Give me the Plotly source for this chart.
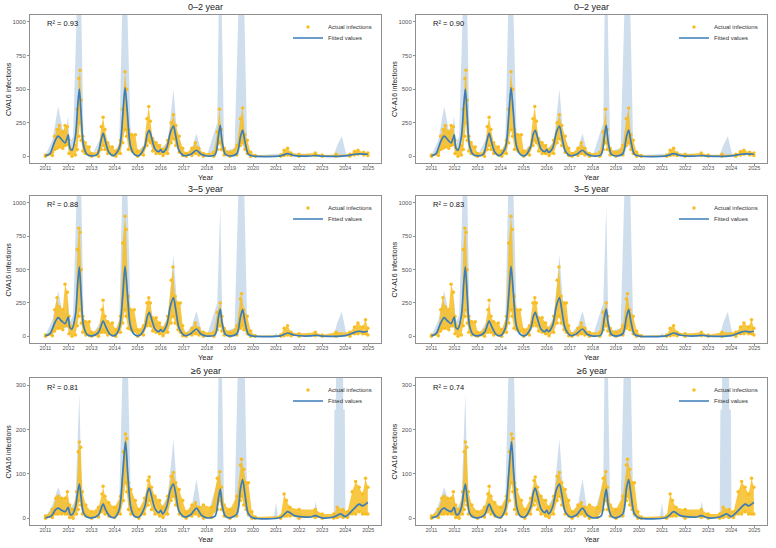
import plotly.graph_objects as go

# ---------------- data ----------------
year_ticks = list(range(2011, 2026))
panel_titles = ["0–2 year", "0–2 year", "3–5 year", "3–5 year", "≥6 year", "≥6 year"]
r2_labels = ["R² = 0.93", "R² = 0.90", "R² = 0.88", "R² = 0.83", "R² = 0.81", "R² = 0.74"]
y_titles = ["CVA16 infections", "CV-A16 infections"] * 3
y_ticks_young = [0, 250, 500, 750, 1000]
y_ticks_old = [0, 100, 200, 300]

# ---- 0–2 year ----
fit_t_02 = [2011.0, 2011.2, 2011.4, 2011.55, 2011.7, 2011.85, 2011.95, 2011.99, 2012.06, 2012.15, 2012.3, 2012.4,
            2012.47, 2012.55, 2012.65, 2012.8, 2013.0, 2013.25, 2013.4, 2013.5, 2013.6, 2013.75, 2013.95, 2014.2,
            2014.35, 2014.45, 2014.55, 2014.68, 2014.85, 2015.05, 2015.3, 2015.42, 2015.5, 2015.6, 2015.75, 2015.92,
            2016.0, 2016.08, 2016.25, 2016.42, 2016.55, 2016.65, 2016.8, 2017.0, 2017.3, 2017.55, 2017.75, 2018.0,
            2018.35, 2018.5, 2018.58, 2018.66, 2018.8, 2019.0, 2019.3, 2019.45, 2019.55, 2019.65, 2019.8, 2020.0,
            2021.2, 2021.5, 2021.8, 2022.5, 2022.7, 2023.0, 2024.0, 2024.4, 2024.6, 2024.98]
fit_v_02 = [3, 20, 110, 150, 125, 100, 140, 160, 60, 45, 150, 380,
            500, 300, 80, 15, 3, 15, 110, 170, 110, 30, 5, 60,
            300, 510, 330, 80, 15, 5, 70, 170, 193, 140, 55, 35,
            50, 30, 60, 180, 225, 150, 40, 5, 15, 45, 15, 2,
            10, 150, 230, 110, 15, 2, 20, 140, 195, 110, 15, 2,
            3, 20, 5, 2, 6, 1, 3, 15, 18, 15]
band_t_02 = [2011.0, 2011.3, 2011.55, 2011.75, 2011.9, 2011.98, 2012.05, 2012.2, 2012.36, 2012.47, 2012.55, 2012.65,
             2012.8, 2013.0, 2013.4, 2013.5, 2013.6, 2013.9, 2014.2, 2014.33, 2014.45, 2014.55, 2014.7, 2014.9,
             2015.3, 2015.5, 2015.65, 2016.0, 2016.3, 2016.55, 2016.7, 2017.0, 2017.35, 2017.55, 2017.75, 2018.0,
             2018.45, 2018.52, 2018.58, 2018.63, 2018.75, 2019.2, 2019.37, 2019.5, 2019.62, 2019.75, 2020.0, 2021.5,
             2023.5, 2023.65, 2023.85, 2024.02, 2024.1, 2024.6, 2024.98]
band_lo_02 = [0, 30, 90, 70, 70, 100, 30, 30, 150, 300, 150, 30,
              5, 0, 80, 140, 90, 0, 30, 150, 350, 180, 50, 5,
              50, 160, 90, 40, 40, 180, 70, 0, 10, 30, 5, 0,
              60, 150, 200, 120, 10, 0, 10, 100, 60, 5, 0, 15,
              0, 0, 0, 0, 2, 12, 12]
band_hi_02 = [8, 120, 370, 200, 200, 300, 90, 150, 1100, 1500, 1100, 150,
              25, 5, 140, 200, 140, 10, 90, 1100, 1500, 1100, 120, 20,
              90, 230, 140, 60, 100, 500, 180, 10, 60, 170, 40, 5,
              250, 1200, 1500, 1200, 40, 60, 1100, 1500, 1100, 60, 5, 25,
              5, 80, 150, 30, 8, 22, 20]
act_t_02 = [2011.0, 2011.3, 2011.4, 2011.5, 2011.6, 2011.75, 2011.85, 2011.95, 2012.02, 2012.15, 2012.3, 2012.38,
            2012.45, 2012.5, 2012.55, 2012.62, 2012.72, 2012.9, 2013.0, 2013.3, 2013.42, 2013.5, 2013.58, 2013.7,
            2013.9, 2014.05, 2014.25, 2014.35, 2014.45, 2014.52, 2014.6, 2014.75, 2014.9, 2015.0, 2015.25, 2015.4,
            2015.48, 2015.55, 2015.65, 2015.8, 2015.95, 2016.1, 2016.3, 2016.45, 2016.55, 2016.65, 2016.8, 2016.95,
            2017.1, 2017.35, 2017.5, 2017.65, 2017.85, 2018.3, 2018.45, 2018.55, 2018.62, 2018.75, 2019.0, 2019.3,
            2019.45, 2019.55, 2019.65, 2019.75, 2019.9, 2020.1, 2021.2, 2021.35, 2021.5, 2021.65, 2022.0, 2022.7,
            2023.0, 2023.6, 2024.2, 2024.4, 2024.55, 2024.8, 2024.98]
act_lo_02 = [0, 5, 50, 60, 70, 60, 80, 90, 20, 0, 10, 50,
             150, 250, 120, 40, 20, 10, 0, 0, 50, 80, 50, 20,
             10, 0, 20, 100, 200, 150, 50, 40, 20, 0, 10, 80,
             120, 100, 40, 20, 20, 5, 20, 100, 130, 80, 30, 5,
             0, 5, 20, 10, 0, 0, 50, 100, 50, 10, 0, 10,
             80, 100, 50, 20, 0, 0, 0, 5, 10, 5, 0, 5,
             0, 0, 0, 10, 15, 10, 5]
act_hi_02 = [10, 30, 150, 200, 230, 180, 230, 220, 120, 50, 80, 350,
             580, 640, 420, 150, 100, 70, 20, 40, 220, 290, 200, 100,
             70, 40, 120, 350, 630, 500, 200, 160, 160, 40, 60, 280,
             370, 260, 130, 100, 80, 50, 120, 250, 310, 230, 150, 60,
             20, 60, 100, 60, 20, 30, 180, 350, 200, 60, 30, 80,
             280, 360, 160, 120, 30, 5, 10, 45, 60, 25, 15, 25,
             10, 15, 15, 35, 45, 30, 25]

# ---- 3–5 year ----
fit_t_35 = [2011.0, 2011.2, 2011.4, 2011.55, 2011.7, 2011.85, 2011.95, 2011.99, 2012.06, 2012.15, 2012.3, 2012.4,
            2012.47, 2012.55, 2012.65, 2012.8, 2013.0, 2013.3, 2013.5, 2013.62, 2013.8, 2014.0, 2014.2, 2014.35,
            2014.45, 2014.55, 2014.68, 2014.85, 2015.05, 2015.3, 2015.42, 2015.5, 2015.6, 2015.75, 2015.92, 2016.0,
            2016.08, 2016.25, 2016.42, 2016.55, 2016.65, 2016.8, 2017.05, 2017.3, 2017.55, 2017.75, 2018.0, 2018.35,
            2018.5, 2018.58, 2018.66, 2018.8, 2019.0, 2019.3, 2019.45, 2019.55, 2019.65, 2019.8, 2020.0, 2021.2,
            2021.5, 2021.8, 2022.5, 2022.7, 2023.0, 2024.0, 2024.4, 2024.6, 2024.8, 2024.98]
fit_v_35 = [3, 20, 100, 140, 115, 95, 130, 145, 65, 55, 160, 400,
            520, 300, 80, 15, 3, 30, 115, 70, 15, 5, 60, 300,
            525, 330, 80, 15, 5, 60, 150, 180, 130, 55, 35, 50,
            35, 80, 230, 290, 200, 60, 5, 20, 55, 15, 2, 10,
            140, 205, 100, 15, 2, 20, 140, 200, 110, 15, 2, 3,
            25, 8, 3, 8, 2, 5, 30, 38, 32, 38]
band_t_35 = [2011.0, 2011.3, 2011.55, 2011.75, 2011.9, 2011.98, 2012.05, 2012.2, 2012.36, 2012.47, 2012.55, 2012.65,
             2012.8, 2013.0, 2013.4, 2013.5, 2013.6, 2013.9, 2014.2, 2014.33, 2014.45, 2014.55, 2014.7, 2014.9,
             2015.3, 2015.5, 2015.65, 2016.0, 2016.3, 2016.55, 2016.7, 2017.0, 2017.35, 2017.55, 2017.75, 2018.0,
             2018.45, 2018.58, 2018.66, 2018.75, 2019.2, 2019.37, 2019.5, 2019.62, 2019.75, 2020.0, 2020.9, 2021.0,
             2021.1, 2021.5, 2023.5, 2023.65, 2023.85, 2024.02, 2024.1, 2024.6, 2024.98]
band_lo_35 = [0, 30, 80, 60, 60, 90, 30, 30, 150, 300, 150, 30,
              5, 0, 60, 90, 60, 0, 30, 150, 350, 180, 50, 5,
              40, 150, 90, 40, 60, 220, 110, 0, 10, 30, 5, 0,
              60, 180, 60, 10, 0, 10, 100, 60, 5, 0, 0, 0,
              0, 20, 0, 0, 0, 0, 3, 32, 32]
band_hi_35 = [8, 120, 340, 180, 180, 280, 100, 160, 1100, 1500, 1100, 150,
              25, 5, 110, 140, 90, 10, 90, 1100, 1500, 1100, 120, 20,
              80, 210, 140, 60, 120, 610, 260, 10, 80, 190, 50, 5,
              250, 975, 200, 40, 60, 1100, 1500, 1100, 60, 5, 5, 25,
              5, 30, 5, 100, 185, 40, 10, 44, 44]
act_t_35 = [2011.0, 2011.3, 2011.4, 2011.5, 2011.6, 2011.75, 2011.85, 2011.95, 2012.02, 2012.15, 2012.3, 2012.38,
            2012.45, 2012.5, 2012.55, 2012.62, 2012.75, 2012.9, 2013.0, 2013.3, 2013.45, 2013.5, 2013.58, 2013.7,
            2013.9, 2014.05, 2014.25, 2014.35, 2014.45, 2014.5, 2014.58, 2014.7, 2014.85, 2015.0, 2015.25, 2015.4,
            2015.48, 2015.55, 2015.65, 2015.8, 2015.95, 2016.1, 2016.3, 2016.45, 2016.53, 2016.62, 2016.75, 2016.85,
            2016.95, 2017.1, 2017.35, 2017.5, 2017.65, 2017.85, 2018.3, 2018.45, 2018.58, 2018.65, 2018.75, 2019.0,
            2019.3, 2019.45, 2019.5, 2019.6, 2019.75, 2019.9, 2020.1, 2021.2, 2021.35, 2021.5, 2021.65, 2022.0,
            2022.7, 2023.0, 2023.6, 2024.2, 2024.4, 2024.55, 2024.75, 2024.88, 2024.98]
act_lo_35 = [0, 5, 40, 60, 60, 50, 80, 80, 20, 0, 10, 80,
             150, 200, 100, 30, 10, 10, 0, 0, 30, 50, 30, 10,
             10, 0, 30, 100, 200, 150, 60, 50, 40, 0, 10, 80,
             100, 80, 40, 30, 20, 5, 30, 100, 150, 100, 50, 30,
             5, 0, 10, 20, 10, 0, 0, 50, 80, 40, 10, 0,
             10, 60, 80, 50, 20, 0, 0, 0, 5, 10, 5, 0,
             5, 0, 0, 0, 20, 20, 20, 20, 10]
act_hi_35 = [10, 40, 200, 290, 220, 200, 390, 330, 150, 70, 100, 650,
             810, 780, 500, 150, 110, 110, 30, 50, 200, 270, 150, 110,
             100, 50, 150, 700, 900, 800, 300, 200, 200, 50, 80, 250,
             290, 250, 140, 140, 100, 60, 150, 420, 520, 300, 250, 250,
             80, 20, 60, 100, 60, 30, 30, 180, 250, 150, 60, 30,
             80, 280, 320, 200, 150, 40, 5, 10, 60, 80, 30, 20,
             30, 10, 30, 30, 70, 100, 70, 125, 60]

# ---- ≥6 year ----
fit_t_6 = [2011.0, 2011.25, 2011.45, 2011.55, 2011.7, 2011.85, 2011.95, 2011.99, 2012.06, 2012.15, 2012.3, 2012.4,
           2012.47, 2012.55, 2012.65, 2012.8, 2013.0, 2013.3, 2013.5, 2013.62, 2013.8, 2014.0, 2014.2, 2014.35,
           2014.47, 2014.57, 2014.7, 2014.85, 2015.05, 2015.3, 2015.42, 2015.5, 2015.6, 2015.75, 2015.92, 2016.0,
           2016.08, 2016.25, 2016.42, 2016.55, 2016.65, 2016.8, 2017.05, 2017.3, 2017.55, 2017.75, 2018.0, 2018.35,
           2018.5, 2018.58, 2018.66, 2018.8, 2019.0, 2019.3, 2019.45, 2019.55, 2019.65, 2019.8, 2020.0, 2021.2,
           2021.5, 2021.8, 2022.5, 2022.7, 2023.0, 2023.5, 2023.8, 2024.0, 2024.35, 2024.6, 2024.75, 2024.98]
fit_v_6 = [1, 5, 20, 23, 18, 15, 22, 25, 10, 8, 25, 60,
           77, 45, 12, 3, 1, 8, 32, 18, 4, 2, 20, 100,
           172, 100, 25, 5, 3, 25, 58, 68, 50, 22, 13, 18,
           10, 25, 65, 77, 55, 15, 3, 8, 23, 8, 1, 5,
           45, 66, 30, 5, 1, 10, 65, 87, 55, 10, 1, 2,
           15, 6, 3, 6, 1, 3, 10, 4, 20, 32, 28, 36]
band_t_6 = [2011.0, 2011.3, 2011.55, 2011.75, 2011.9, 2011.98, 2012.05, 2012.3, 2012.47, 2012.55, 2012.65, 2013.0,
            2013.5, 2013.9, 2014.2, 2014.35, 2014.47, 2014.57, 2014.7, 2015.05, 2015.5, 2016.0, 2016.3, 2016.55,
            2016.7, 2017.0, 2017.35, 2017.55, 2017.75, 2018.0, 2018.45, 2018.52, 2018.58, 2018.63, 2018.75, 2019.2,
            2019.37, 2019.5, 2019.62, 2019.75, 2020.0, 2020.9, 2021.0, 2021.08, 2021.5, 2022.6, 2022.72, 2022.82,
            2023.5, 2023.53, 2023.6, 2023.61, 2023.9, 2023.91, 2023.98, 2024.01, 2024.6, 2024.98]
band_lo_6 = [0, 5, 15, 10, 10, 15, 5, 15, 50, 30, 5, 0,
             25, 0, 10, 50, 100, 50, 15, 1, 60, 15, 20, 60,
             30, 0, 5, 15, 3, 0, 20, 40, 55, 25, 3, 0,
             5, 60, 30, 3, 0, 0, 0, 0, 12, 2, 2, 2,
             1, 0, 0, 0, 0, 0, 0, 3, 28, 32]
band_hi_6 = [2, 30, 70, 40, 35, 50, 20, 40, 280, 100, 20, 3,
             38, 4, 40, 350, 600, 350, 40, 4, 75, 22, 50, 178,
             70, 5, 30, 88, 20, 3, 80, 400, 600, 400, 15, 25,
             400, 600, 400, 25, 2, 2, 35, 2, 18, 5, 38, 6,
             5, 245, 245, 600, 600, 245, 245, 6, 36, 40]
act_t_6 = [2011.0, 2011.3, 2011.45, 2011.55, 2011.7, 2011.85, 2011.95, 2012.05, 2012.2, 2012.35, 2012.42, 2012.47,
           2012.53, 2012.6, 2012.75, 2013.0, 2013.3, 2013.45, 2013.5, 2013.58, 2013.75, 2014.0, 2014.25, 2014.38,
           2014.47, 2014.53, 2014.6, 2014.7, 2014.9, 2015.05, 2015.3, 2015.45, 2015.5, 2015.6, 2015.75, 2015.95,
           2016.1, 2016.3, 2016.45, 2016.55, 2016.65, 2016.8, 2016.95, 2017.1, 2017.35, 2017.5, 2017.65, 2017.85,
           2018.2, 2018.45, 2018.56, 2018.63, 2018.75, 2019.0, 2019.3, 2019.45, 2019.5, 2019.6, 2019.7, 2019.8,
           2019.95, 2020.1, 2021.2, 2021.35, 2021.45, 2021.6, 2022.0, 2022.7, 2023.0, 2023.5, 2023.65, 2023.9,
           2024.1, 2024.3, 2024.45, 2024.6, 2024.75, 2024.88, 2024.98]
act_lo_6 = [0, 2, 10, 10, 10, 10, 10, 2, 0, 10, 20, 40,
            30, 10, 5, 0, 3, 15, 20, 10, 5, 2, 10, 40,
            80, 60, 20, 10, 5, 0, 10, 30, 40, 20, 10, 5,
            2, 10, 40, 50, 30, 10, 5, 0, 5, 10, 5, 0,
            2, 20, 40, 20, 5, 0, 5, 40, 50, 30, 20, 10,
            0, 0, 0, 5, 5, 5, 0, 2, 0, 0, 2, 2,
            2, 10, 10, 15, 10, 10, 10]
act_hi_6 = [5, 20, 45, 50, 45, 45, 60, 30, 20, 60, 150, 172,
            160, 60, 30, 15, 25, 55, 72, 50, 35, 25, 50, 150,
            190, 180, 80, 65, 40, 20, 45, 85, 93, 70, 50, 40,
            25, 50, 95, 103, 80, 65, 40, 15, 30, 35, 25, 30,
            25, 90, 105, 70, 30, 20, 50, 120, 133, 110, 80, 80,
            15, 3, 5, 55, 40, 25, 20, 20, 10, 10, 25, 20,
            15, 60, 83, 70, 55, 90, 70]

# ---------------- figure ----------------
W, H = 776, 548
x_dom_px = [(30, 381), (416, 767)]
y_dom_px = [(15, 163), (196, 343), (378, 525)]
title_px = [7, 189, 371]

series = [
    (fit_t_02, fit_v_02, band_t_02, band_lo_02, band_hi_02, act_t_02, act_lo_02, act_hi_02),
    (fit_t_35, fit_v_35, band_t_35, band_lo_35, band_hi_35, act_t_35, act_lo_35, act_hi_35),
    (fit_t_6, fit_v_6, band_t_6, band_lo_6, band_hi_6, act_t_6, act_lo_6, act_hi_6),
]

FONT = "Liberation Sans, Arial, Helvetica, sans-serif"
BAND = "rgba(176,201,226,0.62)"
PT = "#F7BD22"
PT_FILL = "rgba(247,189,34,0.85)"
LINE = "#3B7DB8"
FRAME = "#8f8f8f"

fig = go.Figure()
layout = dict(width=W, height=H, margin=dict(l=0, r=0, t=0, b=0),
              paper_bgcolor="white", plot_bgcolor="white",
              font=dict(family=FONT, color="#333333"), annotations=[])

for p in range(6):
    row, col = divmod(p, 2)
    k = p + 1
    xa = "x" if k == 1 else f"x{k}"
    ya = "y" if k == 1 else f"y{k}"
    leg_a = "legend" if k == 1 else f"legend{k}"
    leg_f = f"legend{k + 6}"
    ft, fv, bt, blo, bhi, at, alo, ahi = series[row]

    # confidence band
    fig.add_trace(go.Scatter(x=bt, y=blo, mode="lines", line=dict(width=0), hoverinfo="skip",
                             showlegend=False, xaxis=xa, yaxis=ya))
    fig.add_trace(go.Scatter(x=bt, y=bhi, mode="lines", line=dict(width=0), fill="tonexty",
                             fillcolor=BAND, hoverinfo="skip", showlegend=False, xaxis=xa, yaxis=ya))
    # spread of the daily actual infections
    fig.add_trace(go.Scatter(x=at, y=alo, mode="lines", line=dict(width=0), hoverinfo="skip",
                             showlegend=False, xaxis=xa, yaxis=ya))
    fig.add_trace(go.Scatter(x=at, y=ahi, mode="lines", line=dict(width=0), fill="tonexty",
                             fillcolor=PT_FILL, hoverinfo="skip", showlegend=False, xaxis=xa, yaxis=ya))
    fig.add_trace(go.Scatter(x=at, y=alo, mode="markers", marker=dict(size=3.5, color=PT),
                             name="Actual infections", legend=leg_a, xaxis=xa, yaxis=ya))
    fig.add_trace(go.Scatter(x=at, y=ahi, mode="markers", marker=dict(size=3.5, color=PT),
                             showlegend=False, xaxis=xa, yaxis=ya))
    # fitted curve
    fig.add_trace(go.Scatter(x=ft, y=fv, mode="lines",
                             line=dict(color=LINE, width=1.7, shape="spline", smoothing=0.8),
                             name="Fitted values", legend=leg_f, xaxis=xa, yaxis=ya))

    x0, x1 = x_dom_px[col]
    ytop, ybot = y_dom_px[row]
    xdom = [x0 / W, x1 / W]
    ydom = [1 - ybot / H, 1 - ytop / H]
    yticks = y_ticks_young if row < 2 else y_ticks_old
    yrange = [-50, 1052] if row < 2 else [-15, 316]

    axis_common = dict(showline=True, mirror=True, linecolor=FRAME, linewidth=1, showgrid=False,
                       zeroline=False, ticks="outside", ticklen=2, tickcolor=FRAME, tickwidth=0.8,
                       tickfont=dict(size=6, color="#555555", family=FONT))
    layout["xaxis" if k == 1 else f"xaxis{k}"] = dict(
        axis_common, domain=xdom, range=[2010.33, 2025.55], tickvals=year_ticks,
        ticktext=[str(y) for y in year_ticks], anchor=ya, ticklabelstandoff=-3,
        tickfont=dict(size=5.5, color="#555555", family=FONT))
    layout["yaxis" if k == 1 else f"yaxis{k}"] = dict(
        axis_common, domain=ydom, range=yrange, tickvals=yticks, anchor=xa)

    legend_x = (x0 + 258) / W
    for leg, dy in ((leg_a, 12), (leg_f, 23)):
        layout[leg] = dict(x=legend_x, y=1 - (ytop + dy) / H, xanchor="left", yanchor="middle",
                           bgcolor="rgba(0,0,0,0)", font=dict(size=6, color="#333333", family=FONT),
                           itemwidth=30, tracegroupgap=0)

    cx = (x0 + x1) / 2 / W
    layout["annotations"] += [
        dict(text=panel_titles[p], x=cx, y=1 - title_px[row] / H, xref="paper", yref="paper",
             showarrow=False, font=dict(size=9, color="#222222"), xanchor="center", yanchor="middle"),
        dict(text="Year", x=cx, y=1 - (ybot + 14) / H, xref="paper", yref="paper",
             showarrow=False, font=dict(size=7.5, color="#222222"), xanchor="center", yanchor="middle"),
        dict(text=y_titles[p], x=(x0 - 22) / W, y=(ydom[0] + ydom[1]) / 2, xref="paper", yref="paper",
             showarrow=False, textangle=-90, font=dict(size=7, color="#222222"),
             xanchor="center", yanchor="middle"),
        dict(text=r2_labels[p], x=(x0 + 15) / W, y=1 - (ytop + 9) / H, xref="paper", yref="paper",
             showarrow=False, font=dict(size=7.5, color="#111111"), xanchor="left", yanchor="middle"),
    ]

fig.update_layout(**layout)
fig.write_html("out.html")
